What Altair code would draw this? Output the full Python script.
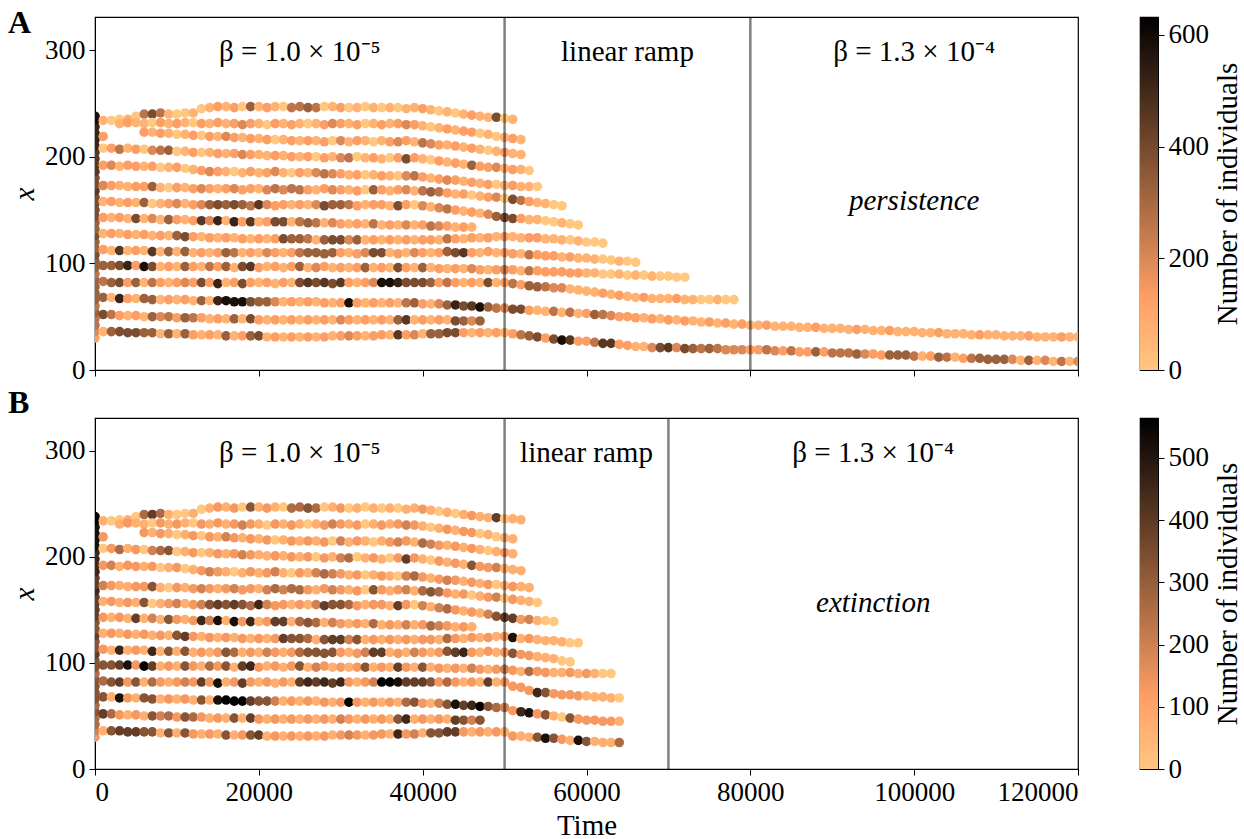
import altair as alt
import pandas as pd

FONT = "Liberation Serif"
T_STEP = 1000        # output interval of the simulation (time units)
COUNT_UNIT = 65      # one level digit = 65 individuals

# ---- initial population, t = 0 (position, level digit) ----
init_x = [30, 36, 42, 48, 54, 60, 66, 72, 78, 84, 90, 96, 102, 108, 114, 120, 126, 132,
          138, 144, 150, 156, 162, 168, 174, 180, 186, 192, 198, 204, 210, 216, 222, 228, 234, 238]
init_lvl = "234454555545565565566667667777888899"

# ---- clusters up to t = 50000 (identical in both runs) ----
early_start = [1, 3, 6, 1, 1, 1, 1, 1, 1, 1, 1, 1, 1, 1, 1, 1]
early_x = [
    [234, 234, 235, 235, 238, 240, 240, 241, 240, 240, 241, 241, 245, 246, 247, 247, 246, 247, 247, 247,
     246, 247, 247, 246, 247, 246, 246, 247, 247, 246, 246, 246, 247, 246, 246, 246, 246, 245, 246, 245,
     244, 243, 242, 241, 240, 239, 238, 237, 237, 236],
    [231, 232, 232, 231, 232, 232, 231, 231, 232, 232, 231, 231, 232, 231, 231, 230, 231, 231, 230, 231,
     231, 230, 231, 231, 231, 230, 231, 231, 231, 230, 231, 231, 230, 231, 231, 230, 230, 229, 228, 227,
     226, 225, 224, 223, 222, 221, 219, 218],
    [223, 223, 222, 222, 221, 221, 220, 220, 219, 219, 219, 218, 218, 217, 217, 216, 216, 216, 215, 215,
     215, 215, 214, 215, 215, 214, 215, 215, 214, 215, 214, 214, 215, 214, 213, 212, 211, 211, 210, 209,
     208, 207, 206, 205, 204],
    [208, 208, 207, 208, 207, 207, 206, 206, 206, 205, 205, 204, 204, 204, 203, 203, 203, 202, 202, 202,
     201, 201, 201, 200, 200, 200, 200, 199, 200, 199, 199, 200, 199, 199, 198, 199, 199, 198, 199, 198,
     197, 196, 195, 194, 193, 192, 191, 190, 190, 189],
    [192, 192, 191, 192, 191, 191, 191, 190, 190, 190, 189, 188, 187, 186, 186, 186, 186, 185, 186, 185,
     185, 186, 185, 185, 185, 185, 185, 184, 184, 184, 183, 183, 183, 183, 182, 182, 182, 182, 182, 181,
     180, 179, 178, 178, 177, 176, 175, 174, 174, 173],
    [173, 173, 173, 172, 172, 172, 172, 171, 171, 171, 171, 170, 170, 170, 170, 170, 170, 169, 170, 170,
     169, 170, 169, 170, 169, 169, 169, 170, 169, 169, 169, 168, 169, 169, 169, 168, 169, 169, 168, 168,
     167, 167, 166, 165, 165, 164, 163, 162, 162, 161],
    [158, 158, 157, 157, 157, 157, 156, 156, 156, 156, 156, 155, 155, 155, 155, 155, 155, 155, 154, 155,
     155, 154, 155, 155, 155, 155, 155, 154, 155, 155, 155, 154, 155, 155, 155, 154, 154, 155, 155, 154,
     153, 152, 151, 150, 149, 148, 147, 146, 144, 143],
    [143, 143, 143, 142, 142, 142, 142, 141, 141, 141, 141, 140, 140, 140, 140, 140, 139, 139, 139, 139,
     139, 139, 139, 139, 139, 138, 138, 138, 138, 137, 137, 137, 137, 137, 136, 136, 136, 136, 136, 136,
     135, 135, 135, 134, 134, 134],
    [128, 128, 128, 127, 127, 127, 126, 126, 126, 126, 125, 125, 125, 124, 124, 124, 124, 123, 123, 123,
     123, 123, 123, 123, 123, 123, 122, 122, 122, 122, 122, 122, 122, 122, 122, 122, 122, 122, 122, 122,
     122, 122, 123, 123, 123, 124, 124, 124, 125, 125],
    [113, 112, 112, 112, 112, 112, 111, 111, 111, 111, 111, 110, 110, 110, 110, 110, 110, 110, 110, 110,
     110, 110, 110, 110, 110, 110, 110, 109, 110, 110, 110, 109, 110, 110, 110, 110, 109, 110, 110, 110,
     110, 110, 111, 110, 110, 110, 110, 111, 110, 110],
    [98, 98, 98, 98, 98, 97, 97, 97, 97, 97, 97, 97, 97, 97, 97, 97, 96, 97, 97, 96,
     97, 97, 96, 97, 97, 96, 96, 97, 96, 96, 96, 96, 96, 96, 96, 96, 96, 96, 96, 96,
     96, 95, 95, 95, 95, 95, 94, 94, 94, 94],
    [83, 82, 82, 82, 82, 82, 82, 82, 82, 82, 82, 82, 82, 82, 81, 82, 82, 81, 82, 82,
     82, 81, 82, 82, 82, 82, 82, 82, 81, 82, 82, 82, 82, 82, 82, 82, 82, 82, 82, 82,
     82, 82, 82, 82, 82, 82, 82, 82, 82, 82],
    [68, 68, 67, 67, 67, 67, 66, 66, 66, 66, 66, 65, 65, 65, 65, 65, 64, 64, 64, 64,
     64, 64, 64, 64, 64, 64, 64, 63, 63, 63, 63, 63, 63, 63, 63, 63, 63, 63, 63, 62,
     62, 62, 61, 61, 60, 60, 59, 59, 58, 58],
    [52, 52, 51, 51, 51, 50, 50, 50, 50, 49, 49, 49, 49, 48, 48, 48, 48, 48, 48, 47,
     47, 47, 47, 47, 47, 47, 47, 47, 47, 47, 47, 47, 47, 47, 47, 47, 47, 47, 47, 47,
     47, 47, 47, 46, 46, 46, 46],
    [36, 36, 36, 35, 35, 35, 35, 34, 34, 34, 34, 33, 33, 33, 33, 32, 32, 32, 32, 32,
     31, 31, 31, 31, 31, 31, 31, 31, 32, 32, 32, 32, 32, 32, 33, 33, 33, 33, 33, 34,
     34, 34, 35, 35, 35, 35, 35, 35, 35, 35],
    [219],
]
early_lvl = [
    "1001046410" "0101212051" "2104454012" "0101010112" "1010121160",
    "1211021210" "2121232102" "1210123212" "0121232101" "21220101",
    "2121012021" "3212120121" "2120312101" "2321432121" "21012",
    "0241203450" "1201212321" "1212120213" "4012102621" "0212152231",
    "2312212012" "0123210121" "2310213432" "1201210342" "1232121201",
    "3211225102" "1232123221" "3434421232" "1205212314" "5421201230",
    "1212150123" "1235656547" "3221213655" "4212216203" "1342121356",
    "2121613152" "1273818271" "2661454132" "1214121312" "432121",
    "1212121215" "6212121212" "1265541566" "3512121212" "2142121212",
    "2171217151" "5121254121" "3212455552" "1236612132" "1256721212",
    "5568296121" "5214251672" "1212513212" "1251216215" "1212132123",
    "4562514212" "3262812621" "2121676767" "2123998666" "5242121612",
    "5182155121" "2151899965" "5312121212" "9212121452" "1358679543",
    "6421215342" "5421215162" "1212121213" "2121215712" "1216535",
    "1566655151" "5212151256" "1212121212" "3212217231" "5566212121",
    "2",
]

# ---- run A (ramp 50000-80000): clusters after t = 50000 ----
tail_a_x = [
    [235], [217, 216], [203, 202], [188, 188, 187], [173, 172, 172, 172],
    [160, 159, 158, 157, 156, 155, 154],
    [142, 142, 141, 141, 140, 139, 138, 137, 136],
    [125, 124, 124, 124, 123, 123, 122, 122, 121, 120, 120, 119],
    [109, 109, 108, 108, 107, 107, 106, 106, 105, 105, 104, 104, 103, 102, 102, 101],
    [94, 93, 93, 93, 92, 92, 92, 91, 91, 91, 91, 90, 90, 90, 89, 89, 89, 88, 88, 88, 87, 87],
    [81, 80, 79, 78, 78, 77, 77, 76, 75, 74, 73, 72, 71, 70, 69, 68, 68, 67, 67, 67,
     67, 66, 66, 66, 66, 66, 66, 66],
    [57, 57, 56, 56, 55, 55, 54, 54, 53, 53, 52, 52, 51, 50, 50, 49, 49, 48, 48, 47,
     47, 46, 46, 45, 45, 44, 44, 43, 43, 42, 42, 42, 41, 41, 41, 40, 40, 40, 39, 39,
     39, 38, 38, 38, 37, 37, 37, 36, 36, 36, 35, 35, 35, 34, 34, 34, 33, 33, 33, 33,
     32, 32, 32, 32, 31, 31, 31, 31, 31, 31],
    [34, 33, 32, 31, 30, 29, 28, 28, 27, 27, 26, 25, 25, 24, 23, 22, 22, 21, 21, 21,
     21, 20, 20, 20, 20, 20, 19, 19, 19, 19, 19, 19, 18, 18, 18, 17, 17, 17, 17, 16,
     16, 16, 15, 15, 15, 14, 14, 14, 14, 13, 13, 13, 12, 12, 12, 11, 11, 11, 10, 10,
     10, 10, 9, 9, 9, 9, 8, 8, 8, 8],
]
tail_a_lvl = [
    "1", "21", "11", "210", "2110", "6421100", "621100100", "112211101000",
    "2142221211100100", "2142222221100101010000", "4255433111121211211121100100",
    "6621141412" "5432221212" "1211212121" "1211111211" "1121112111" "1121111211" "1112111211",
    "2456269722" "4772211367" "3654543332" "2432422524" "4453225554" "1254124555" "5315131413",
]

# ---- run B (ramp 50000-70000): clusters after t = 50000 ----
tail_b_x = [
    [236, 235], [217], [203], [188, 187], [172, 172, 171], [160, 159, 158, 157],
    [142, 141, 141, 140, 140, 139],
    [124, 123, 123, 122, 121, 121, 120, 119, 119],
    [109, 108, 107, 106, 105, 104, 102, 101],
    [93, 92, 92, 92, 91, 91, 91, 91, 90, 90, 90, 90, 90],
    [78, 77, 74, 72, 72, 71, 70, 70, 69, 69, 68, 68, 67, 67],
    [55, 54, 53, 52, 51, 50, 49, 48, 47, 46, 46, 45, 45, 45],
    [31, 31, 30, 30, 29, 29, 28, 27, 27, 26, 26, 25, 25, 25],
]
tail_b_lvl = ["11", "1", "1", "11", "211", "2110", "623100", "812111100", "52211100",
              "2142211212100", "22275222211110", "27825105222221", "21158521851114"]

# ---- regime boundaries, colour ranges, annotations ----
ramp_a = [50000, 80000]
ramp_b = [50000, 70000]
cmax_a = 632
cmax_b = 564
bar_ticks_a = [0, 200, 400, 600]
bar_ticks_b = [0, 100, 200, 300, 400, 500]
labels_a = pd.DataFrame({"t": [25000, 65000, 100000], "x": [298, 298, 298],
                         "label": ["β = 1.0 × 10⁻⁵", "linear ramp", "β = 1.3 × 10⁻⁴"]})
labels_b = pd.DataFrame({"t": [25000, 60000, 95000], "x": [298, 298, 298],
                         "label": ["β = 1.0 × 10⁻⁵", "linear ramp", "β = 1.3 × 10⁻⁴"]})
note_a = pd.DataFrame({"t": [100000], "x": [158], "label": ["persistence"]})
note_b = pd.DataFrame({"t": [95000], "x": [157], "label": ["extinction"]})
x_ticks = [0, 20000, 40000, 60000, 80000, 100000, 120000]
y_ticks = [0, 100, 200, 300]

COPPER = ["#FFC77F", "#FF9F65", "#000000"]   # reversed copper colormap stops


def records(starts, xs, lvls):
    out = []
    for s, xv, lv in zip(starts, xs, lvls):
        for i, (x, c) in enumerate(zip(xv, lv)):
            out.append({"t": (s + i) * T_STEP, "x": x, "n": int(c) * COUNT_UNIT})
    return out


def run_frame(tail_x, tail_lvl):
    recs = [{"t": 0, "x": x, "n": int(c) * COUNT_UNIT} for x, c in zip(init_x, init_lvl)]
    recs += records(early_start, early_x, early_lvl)
    recs += records([51] * len(tail_x), tail_x, tail_lvl)
    df = pd.DataFrame(recs)
    return df.sort_values("t", kind="stable")


def panel(df, ramp, labels, note, cmax, letter, letter_y, height, bottom):
    xs = alt.Scale(domain=[0, 120000], nice=False)
    ys = alt.Scale(domain=[0, 331], nice=False)
    if bottom:
        xaxis = alt.Axis(values=x_ticks, format="d", title="Time", titlePadding=6)
    else:
        xaxis = alt.Axis(values=x_ticks, labels=False, title=None)
    yaxis = alt.Axis(values=y_ticks, title="x", titleFontStyle="italic", titlePadding=5)
    pts = alt.Chart(df).mark_circle(size=92, opacity=1, clip=True).encode(
        x=alt.X("t:Q", scale=xs, axis=xaxis),
        y=alt.Y("x:Q", scale=ys, axis=yaxis),
        color=alt.Color("n:Q", legend=None,
                        scale=alt.Scale(domain=[0, 0.2 * cmax, cmax], range=COPPER,
                                        interpolate="rgb", clamp=True)),
    )
    rules = alt.Chart(pd.DataFrame({"t": ramp})).mark_rule(
        color="black", opacity=0.5, strokeWidth=2.5).encode(x="t:Q")
    txt = alt.Chart(labels).mark_text(font=FONT, fontSize=29, color="black").encode(
        x="t:Q", y="x:Q", text="label:N")
    nt = alt.Chart(note).mark_text(font=FONT, fontSize=29, fontStyle="italic", color="black").encode(
        x="t:Q", y="x:Q", text="label:N")
    tag = alt.Chart(pd.DataFrame({"s": [letter]})).mark_text(
        font=FONT, fontSize=32, fontWeight="bold", align="left", baseline="alphabetic",
        color="black").encode(x=alt.value(-87), y=alt.value(letter_y), text="s:N")
    return alt.layer(pts, rules, txt, nt, tag).properties(width=983, height=height)


def colorbar(cmax, ticks, height):
    grad = alt.Gradient(gradient="linear", x1=0, x2=0, y1=1, y2=0, stops=[
        alt.GradientStop(color=COPPER[0], offset=0),
        alt.GradientStop(color=COPPER[1], offset=0.2),
        alt.GradientStop(color=COPPER[2], offset=1),
    ])
    return alt.Chart(pd.DataFrame({"lo": [0], "hi": [cmax]})).mark_rect(fill=grad).encode(
        x=alt.value(0), x2=alt.value(18),
        y=alt.Y("lo:Q", scale=alt.Scale(domain=[0, cmax], nice=False),
                axis=alt.Axis(orient="right", values=ticks, title="Number of individuals",
                              titleAngle=270, titleBaseline="top", titlePadding=5)),
        y2="hi:Q",
    ).properties(width=18, height=height)


df_a = run_frame(tail_a_x, tail_a_lvl)
df_b = run_frame(tail_b_x, tail_b_lvl)

top = panel(df_a, ramp_a, labels_a, note_a, cmax_a, "A", 16, 353, False)
bot = panel(df_b, ramp_b, labels_b, note_b, cmax_b, "B", -5, 351, True)

chart = alt.concat(
    top, colorbar(cmax_a, bar_ticks_a, 353),
    bot, colorbar(cmax_b, bar_ticks_b, 351),
    columns=2, spacing={"row": 48, "column": 62}, bounds="flush",
).resolve_scale(x="independent", y="independent", color="independent").configure(
    font=FONT, padding={"left": 7, "top": 6, "right": 0, "bottom": 0}, background="white",
).configure_axis(
    labelFont=FONT, labelFontSize=27, titleFont=FONT, titleFontSize=29, titleFontWeight="normal",
    labelColor="black", titleColor="black", tickColor="black", domainColor="black",
    tickSize=6, tickWidth=1, domainWidth=1, labelPadding=4, grid=False,
).configure_view(stroke="black", strokeWidth=1.2)

chart.save("out.html", embed_options={"renderer": "svg", "actions": False})
